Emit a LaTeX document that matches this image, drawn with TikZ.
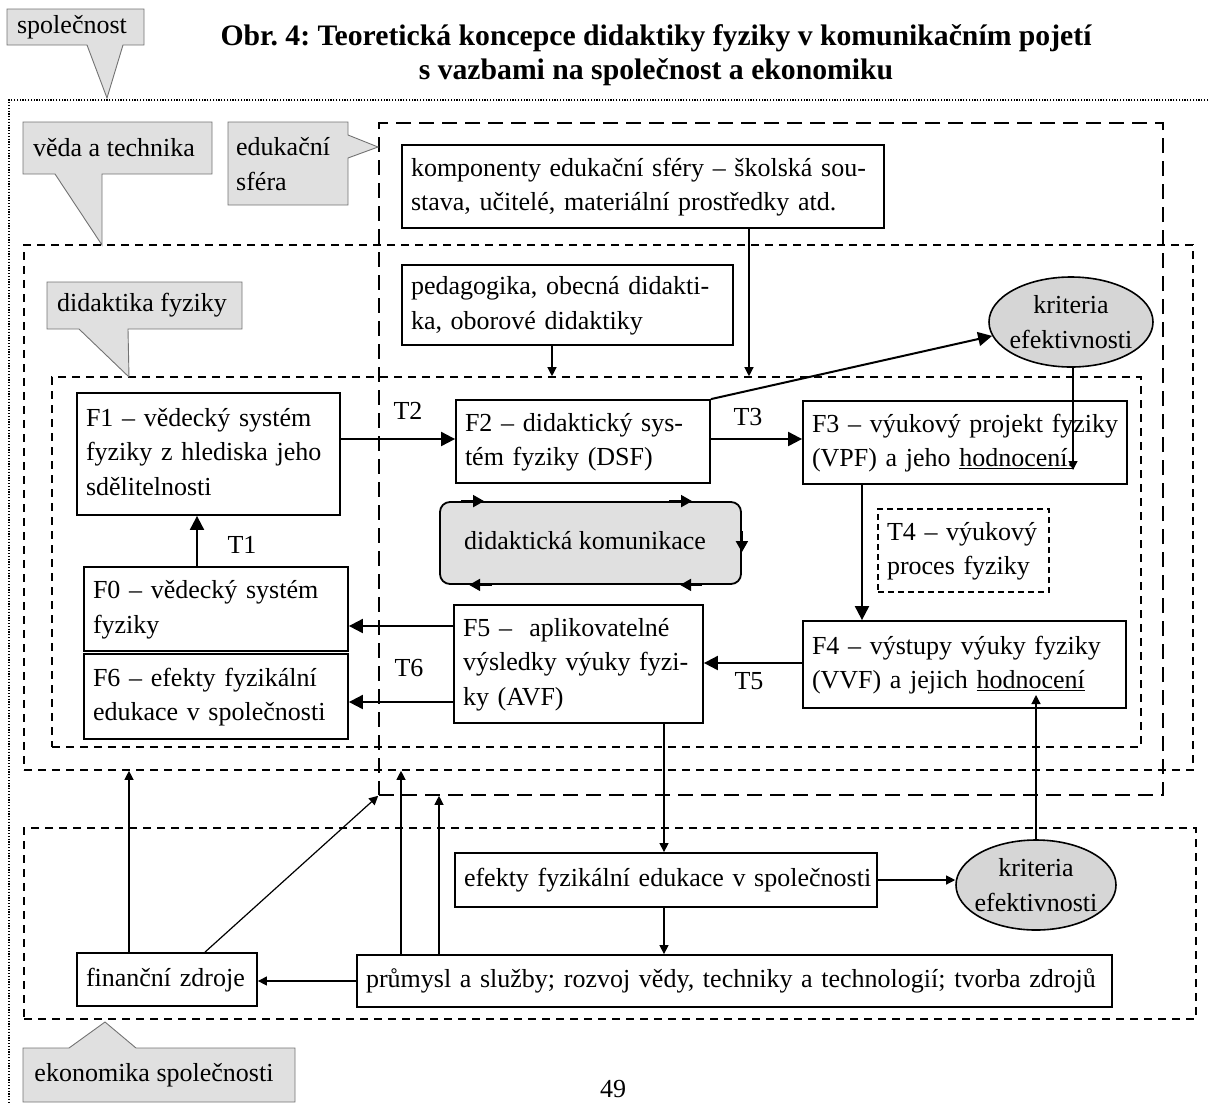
\documentclass[tikz,border=0pt]{standalone}
\usepackage{fontspec}
\setmainfont{Liberation Serif}
\usetikzlibrary{arrows.meta,calc,shapes.geometric}
\newcommand\rows[1]{\begin{tabular}{@{}l@{}}#1\end{tabular}}
\frenchspacing
\begin{document}
\begin{tikzpicture}[x=1pt,y=-1pt,
  txt/.style={font=\fontsize{26}{34.5}\selectfont, inner sep=0pt},
  headline/.style={font=\fontsize{29.7}{33}\selectfont\bfseries, inner sep=0pt, anchor=base},
  fbox/.style={txt, draw, fill=white, line width=1.8, align=left, inner xsep=9pt, inner ysep=0pt},
  tbox/.style={fbox, line width=1.5, dash pattern=on 6pt off 4pt},
  region/.style={draw, line width=1.6, inner sep=0pt, rectangle},
  shortdash/.style={dash pattern=on 8pt off 6pt},
  longdash/.style={dash pattern=on 15pt off 8pt},
  callout/.style={fill=black!12, draw=black!55, line width=0.9},
  crit/.style={ellipse, draw, fill=black!16, line width=1.6, inner sep=0pt},
  tarr/.style={line width=2, -{Triangle[length=14pt, width=14pt]}},
  narr/.style={line width=1.2, -{Triangle[length=9pt, width=9pt]}},
  karr/.style={line width=1.8, -{Triangle[length=11pt, width=12pt]}}
]
\useasboundingbox (0,0) rectangle (1208,1104);
\clip (0,0) rectangle (1208,1104);

% ---- heading
\node[headline] (title1) at (656,45) {Obr. 4: Teoretická koncepce didaktiky fyziky v komunikačním pojetí};
\node[headline] (title2) at (656,79) {s vazbami na společnost a ekonomiku};

% ---- nested spheres
\draw[line width=1.2, dash pattern=on 1.2pt off 1.6pt] (1208,100) -- (9,100) -- (9,1104);
\node[region, shortdash, minimum width=1169, minimum height=525] (veda) at (608.5,507.5) {};
\node[region, longdash, minimum width=784, minimum height=672] (edu) at (771,459) {};
\node[region, shortdash, minimum width=1089, minimum height=370] (didak) at (596.5,562) {};
\node[region, shortdash, minimum width=1172, minimum height=191] (ekon) at (610,923.5) {};

% ---- sphere labels
\path[callout] (7,9) -- (144,9) -- (144,45) -- (123,45) -- (107,98) -- (87,45) -- (7,45) -- cycle;
\node[txt] (lspol) at (72,27) {společnost};
\path[callout] (23,122) -- (212,122) -- (212,174) -- (102,174) -- (102,245) -- (55,174) -- (23,174) -- cycle;
\node[txt] (lveda) at (114,148) {věda a technika};
\path[callout] (228,122) -- (348,122) -- (348,135) -- (378,147) -- (348,158) -- (348,205) -- (228,205) -- cycle;
\node[txt, anchor=west, align=left] (ledu) at (236,164) {edukační\\sféra};
\path[callout] (47,282) -- (242,282) -- (242,329) -- (128,329) -- (129,377) -- (79,329) -- (47,329) -- cycle;
\node[txt] (ldid) at (142,305) {didaktika fyziky};
\path[callout] (23,1048) -- (69,1048) -- (105,1022) -- (136,1048) -- (295,1048) -- (295,1102) -- (23,1102) -- cycle;
\node[txt] (lekon) at (154,1075) {ekonomika společnosti};

% ---- boxes
\node[fbox, text width=464, minimum height=83] (komp) at (643,186.5)
  {\rows{komponenty edukační sféry – školská sou-\\stava, učitelé, materiální prostředky atd.}};
\node[fbox, text width=313, minimum height=80] (ped) at (567.5,305)
  {\rows{pedagogika, obecná didakti-\\ka, oborové didaktiky}};
\node[fbox, text width=245, minimum height=122] (F1) at (208.5,454)
  {\rows{F1 – vědecký systém\\fyziky z hlediska jeho\\sdělitelnosti}};
\node[fbox, text width=246, minimum height=84] (F0) at (216,609)
  {\rows{F0 – vědecký systém\\fyziky}};
\node[fbox, text width=246, minimum height=85] (F6) at (216,696.5)
  {\rows{F6 – efekty fyzikální\\edukace v společnosti}};
\node[fbox, text width=236, minimum height=83] (F2) at (583,441.5)
  {\rows{F2 – didaktický sys-\\tém fyziky (DSF)}};
\node[fbox, text width=306, minimum height=83] (F3) at (965,442.5)
  {\rows{F3 – výukový projekt fyziky\\(VPF) a jeho \underline{hodnocení.}}};
\node[fbox, text width=305, minimum height=87] (F4) at (964.5,664.5)
  {\rows{F4 – výstupy výuky fyziky\\(VVF) a jejich \underline{hodnocení}}};
\node[fbox, text width=231, minimum height=118] (F5) at (578.5,664)
  {\rows{F5 – \ aplikovatelné\\výsledky výuky fyzi-\\ky (AVF)}};
\node[tbox, text width=153, minimum height=83] (T4) at (963.5,550.5)
  {\rows{T4 – výukový\\proces fyziky}};
\node[txt, draw, fill=black!12, line width=1.8, rounded corners=10pt,
      minimum width=301, minimum height=82] (kom) at (590.5,543) {};
\node[txt] (komt) at (585,541) {didaktická komunikace};
\node[fbox, text width=404, minimum height=54] (efekty) at (666,880)
  {\rows{efekty fyzikální edukace v společnosti}};
\node[fbox, text width=737, minimum height=52] (prum) at (734.5,981)
  {\rows{průmysl a služby; rozvoj vědy, techniky a technologií; tvorba zdrojů}};
\node[fbox, text width=162, minimum height=53] (fin) at (167,979.5)
  {\rows{finanční zdroje}};

% ---- efficiency criteria
\node[crit, minimum width=164, minimum height=90] (kT) at (1071,322) {};
\node[txt, align=center] (kTt) at (kT.center) {kriteria\\efektivnosti};
\node[crit, minimum width=160, minimum height=90] (kB) at (1036,885) {};
\node[txt, align=center] (kBt) at (kB.center) {kriteria\\efektivnosti};

% ---- transformations
\draw[tarr] (197,0 |- F0.north) -- (197,0 |- F1.south);
\draw[tarr] (F1.east |- 0,439) -- (F2.west |- 0,439);
\draw[tarr] (F2.east |- 0,439) -- (F3.west |- 0,439);
\draw[tarr] (F2.north east) -- (kT.190);
\draw[tarr] (862,0 |- F3.south) -- (862,0 |- F4.north);
\draw[tarr] (F4.west |- 0,663) -- (F5.east |- 0,663);
\draw[tarr] (F5.west |- 0,626) -- (F0.east |- 0,626);
\draw[tarr] (F5.west |- 0,702) -- (F6.east |- 0,702);
\node[txt] (t1) at (242,545) {T1};
\node[txt] (t2) at (408,411) {T2};
\node[txt] (t3) at (748,417) {T3};
\node[txt] (t5) at (749,681) {T5};
\node[txt] (t6) at (409,668) {T6};

% ---- communication loop
\draw[karr] ($(kom.north west)+(22,0)$) -- ($(kom.north west)+(45,0)$);
\draw[karr] ($(kom.north west)+(230,0)$) -- ($(kom.north west)+(253,0)$);
\draw[karr] ($(kom.south west)+(53,0)$) -- ($(kom.south west)+(30,0)$);
\draw[karr] ($(kom.south west)+(263,0)$) -- ($(kom.south west)+(241,0)$);
\draw[karr] ($(kom.north east)+(0,30)$) -- ($(kom.north east)+(0,51)$);

% ---- links between spheres
\draw[narr] (552,0 |- ped.south) -- (552,0 |- didak.north);
\draw[narr] (749,0 |- komp.south) -- (749,0 |- didak.north);
\draw[narr] (1073,0 |- kT.south) -- (1073,470);
\draw[narr] (664,0 |- F5.south) -- (664,0 |- efekty.north);
\draw[narr] (efekty.east) -- (efekty.east -| kB.west);
\draw[narr] (kB.north) -- (kB.north |- 0,695);
\draw[narr] (664,0 |- efekty.south) -- (664,0 |- prum.north);
\draw[narr] (prum.west) -- (prum.west -| fin.east);
\draw[narr] (129,0 |- fin.north) -- (129,0 |- veda.south);
\draw[narr] (205,0 |- fin.north) -- (edu.south west);
\draw[narr] (401,0 |- prum.north) -- (401,0 |- veda.south);
\draw[narr] (439,0 |- prum.north) -- (439,0 |- edu.south);

% ---- page number
\node[txt, anchor=base] (pg) at (613,1097) {49};
\end{tikzpicture}
\end{document}
